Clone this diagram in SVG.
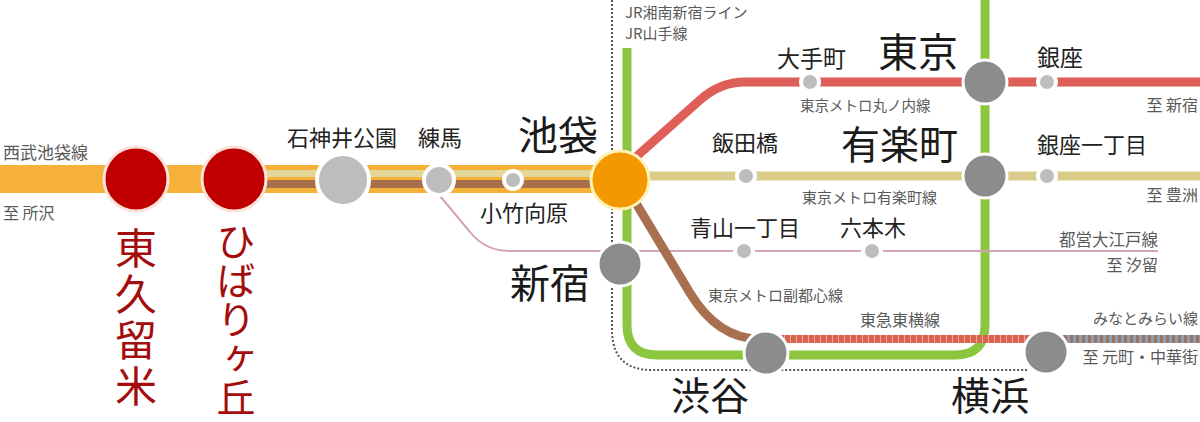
<svg xmlns="http://www.w3.org/2000/svg" width="1200" height="422" viewBox="0 0 1200 422">
<style>
text{font-family:"Noto Sans CJK JP","Noto Sans",sans-serif}
.sm{fill:#5a5a5a}
.st{fill:#222}
.big{fill:#1a1a1a}
.red{fill:#a30d0d}
.ln{fill:none;stroke-linecap:butt;stroke-linejoin:round}
.gs{fill:#bdbdbd;stroke:#fff;stroke-width:4}
.gb{fill:#8c8c8c;stroke:#fff;stroke-width:3}
.rd{fill:#c00000;stroke:#fbe3dc;stroke-width:3}
</style>
<rect width="1200" height="422" fill="#fff"/>
<g id="connectors">
  <path class="ln" d="M612 0 L612 330 Q612 370 652 370 L1027 370" stroke="#555" stroke-width="2" stroke-dasharray="2 2"/>
  <path class="ln" d="M627 48 L627 325 Q627 355 657 355 L955 355 Q985 355 985 325 L985 0" stroke="#8cc63f" stroke-width="9"/>
  <path class="ln" d="M440 196 L470 232 Q485 251 510 251 L1158 251" stroke="#d4a2b6" stroke-width="2"/>
  <path class="ln" d="M620 176 L1200 176" stroke="#d9cc8a" stroke-width="9"/>
  <path class="ln" d="M628 164 L700 100 Q720 82 745 82 L1200 82" stroke="#de5f57" stroke-width="9"/>
  <path class="ln" d="M622 180 L690 293 Q718 339 760 339" stroke="#a8704f" stroke-width="9"/>
  <path class="ln" d="M766 339 L1046 339" stroke="#d9634f" stroke-width="8"/>
  <path class="ln" d="M766 339 L1046 339" stroke="#fff" stroke-opacity="0.45" stroke-width="8" stroke-dasharray="1 5"/>
  <path class="ln" d="M1046 339 L1200 339" stroke="#8e9db0" stroke-width="8"/>
  <path class="ln" d="M1046 339 L1200 339" stroke="#9c7463" stroke-width="8" stroke-dasharray="3 3"/>
  <rect x="0" y="165" width="620" height="28" fill="#f6b138"/>
  <rect x="234" y="170" width="386" height="7" fill="#e3d79c"/>
  <rect x="234" y="180" width="386" height="8" fill="#a86f4c"/>
</g>
<g id="seibu-label">
  <text class="sm" x="3" y="158.5" font-size="17">西武池袋線</text>
  <text class="sm" x="3" y="219" font-size="16">至 所沢</text>
</g>
<g id="higashikurume">
  <circle class="rd" cx="136" cy="179" r="32"/>
  <text class="red" x="136" y="227" font-size="42" writing-mode="vertical-rl" letter-spacing="4">東久留米</text>
</g>
<g id="hibarigaoka">
  <circle class="rd" cx="234" cy="179" r="32"/>
  <text class="red" x="236" y="222" font-size="39" writing-mode="vertical-rl">ひばりヶ丘</text>
</g>
<g id="shakujiikoen">
  <circle class="gs" cx="343" cy="180" r="26"/>
  <text class="st" x="287" y="146.4" font-size="22">石神井公園</text>
</g>
<g id="nerima">
  <circle class="gs" cx="439" cy="180" r="15"/>
  <text class="st" x="418" y="146.4" font-size="22">練馬</text>
</g>
<g id="kotakemukaihara">
  <circle class="gs" cx="513" cy="180" r="9" stroke-width="3"/>
  <text class="st" x="480" y="221.4" font-size="22">小竹向原</text>
</g>
<g id="ikebukuro">
  <circle cx="620" cy="180" r="29" fill="#f39800" stroke="#fff2b8" stroke-width="3"/>
  <text class="big" x="518" y="150" font-size="40">池袋</text>
</g>
<g id="shinjuku">
  <circle class="gb" cx="620" cy="264" r="22"/>
  <text class="big" x="510" y="298" font-size="40">新宿</text>
</g>
<g id="jr-labels">
  <text class="sm" x="625" y="17.7" font-size="15">JR湘南新宿ライン</text>
  <text class="sm" x="625" y="38.7" font-size="15">JR山手線</text>
</g>
<g id="otemachi">
  <circle class="gs" cx="810" cy="82" r="9"/>
  <text class="st" x="777" y="66.7" font-size="23">大手町</text>
</g>
<g id="tokyo">
  <circle class="gb" cx="985" cy="82" r="22"/>
  <text class="big" x="878" y="67" font-size="40">東京</text>
</g>
<g id="ginza">
  <circle class="gs" cx="1047" cy="82" r="9" stroke-width="3"/>
  <text class="st" x="1037" y="65.7" font-size="23">銀座</text>
</g>
<g id="marunouchi-labels">
  <text class="sm" x="800" y="110.5" font-size="14.5">東京メトロ丸ノ内線</text>
  <text class="sm" x="1198" y="111" font-size="16" text-anchor="end">至 新宿</text>
</g>
<g id="iidabashi">
  <circle class="gs" cx="746" cy="176" r="9"/>
  <text class="st" x="712" y="151.4" font-size="22">飯田橋</text>
</g>
<g id="yurakucho">
  <circle class="gb" cx="985" cy="176" r="22"/>
  <text class="big" x="841" y="159" font-size="39">有楽町</text>
</g>
<g id="ginza-itchome">
  <circle class="gs" cx="1047" cy="176" r="9" stroke-width="3"/>
  <text class="st" x="1037" y="153.4" font-size="22">銀座一丁目</text>
</g>
<g id="yurakucho-labels">
  <text class="sm" x="802" y="202.7" font-size="15">東京メトロ有楽町線</text>
  <text class="sm" x="1198" y="201" font-size="16" text-anchor="end">至 豊洲</text>
</g>
<g id="aoyama-itchome">
  <circle class="gs" cx="744" cy="251" r="9"/>
  <text class="st" x="690" y="236.4" font-size="22">青山一丁目</text>
</g>
<g id="roppongi">
  <circle class="gs" cx="872" cy="251" r="9"/>
  <text class="st" x="840" y="236.4" font-size="22">六本木</text>
</g>
<g id="oedo-labels">
  <text class="sm" x="1158" y="246" font-size="16.5" text-anchor="end">都営大江戸線</text>
  <text class="sm" x="1158" y="271" font-size="16" text-anchor="end">至 汐留</text>
</g>
<g id="fukutoshin-label">
  <text class="sm" x="708" y="300.7" font-size="15">東京メトロ副都心線</text>
  <text class="sm" x="860" y="326" font-size="16">東急東横線</text>
</g>
<g id="shibuya">
  <circle class="gb" cx="766" cy="353" r="22"/>
  <text class="big" x="671" y="410" font-size="39">渋谷</text>
</g>
<g id="yokohama">
  <circle class="gb" cx="1046" cy="352" r="22"/>
  <text class="big" x="951" y="410" font-size="39">横浜</text>
</g>
<g id="minatomirai-labels">
  <text class="sm" x="1198" y="323.7" font-size="15" text-anchor="end">みなとみらい線</text>
  <text class="sm" x="1198" y="363" font-size="16" text-anchor="end">至 元町・中華街</text>
</g>
</svg>
